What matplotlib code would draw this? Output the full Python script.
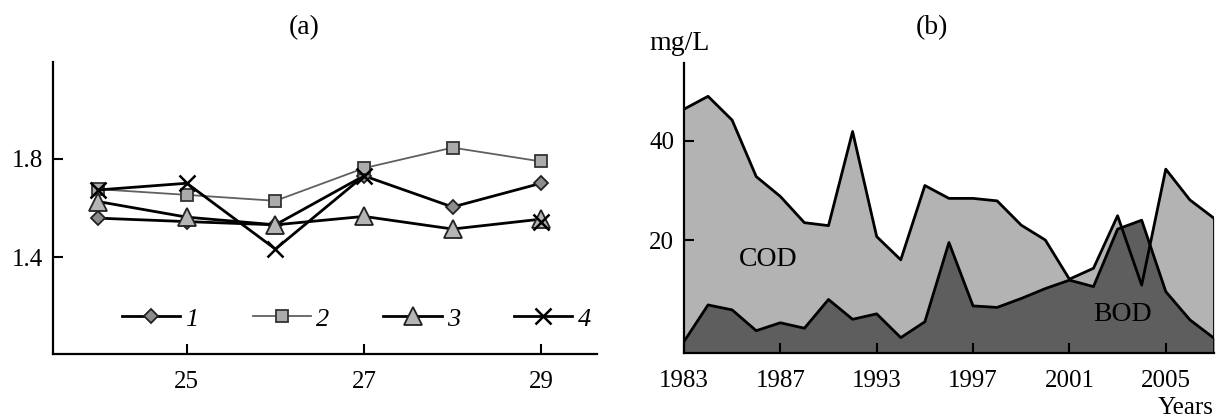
import numpy as np
import matplotlib
matplotlib.use("Agg")
import matplotlib.pyplot as plt

plt.rcParams['font.family'] = ['Liberation Serif', 'DejaVu Serif']
plt.rcParams['font.size'] = 18

# (a) four series vs x
x_a = [24, 25, 26, 27, 28, 29]
s1 = [1.559, 1.545, 1.532, 1.730, 1.604, 1.700]
s2 = [1.676, 1.653, 1.629, 1.761, 1.844, 1.788]
s3 = [1.626, 1.563, 1.532, 1.566, 1.515, 1.555]
s4 = [1.673, 1.700, 1.434, 1.730, np.nan, 1.545]

# (b) COD / BOD, one point per sample
cod = [46.4, 49.0, 44.2, 32.8, 28.8, 23.5, 22.9, 41.9, 20.7, 16.0, 31.0, 28.4,
       28.4, 27.9, 23.0, 20.0, 12.1, 14.3, 24.9, 10.9, 34.3, 28.1, 24.4]
bod = [-0.5, 6.9, 5.9, 1.7, 3.3, 2.2, 8.0, 4.0, 5.1, 0.3, 3.5, 19.5,
       6.7, 6.4, 8.2, 10.2, 11.9, 10.6, 22.2, 24.0, 9.6, 3.9, 0.2]
year_ticks = [0, 4, 8, 12, 16, 20]
year_labels = ['1983', '1987', '1993', '1997', '2001', '2005']

fig = plt.figure(figsize=(12.17, 4.18), dpi=100)
ax1 = fig.add_axes([0.0436, 0.1531, 0.4469, 0.6986])
ax2 = fig.add_axes([0.5620, 0.1555, 0.4355, 0.6935])

for ax in (ax1, ax2):
    for s in ('top', 'right'):
        ax.spines[s].set_visible(False)
    for s in ('left', 'bottom'):
        ax.spines[s].set_linewidth(1.6)
    ax.tick_params(direction='in', length=7, width=1.5, labelsize=18)
    ax.tick_params(axis='x', pad=12)
    ax.tick_params(axis='y', pad=7)

# --- panel (a)
ax1.plot(x_a, s1, color='black', lw=2, marker='D', ms=7,
         mfc='#8c8c8c', mec='#222222', mew=1.3, label='1')
ax1.plot(x_a, s2, color='#606060', lw=1.3, marker='s', ms=9,
         mfc='#ababab', mec='#333333', mew=1.3, label='2')
ax1.plot(x_a, s3, color='black', lw=2, marker='^', ms=12.5,
         mfc='#b5b5b5', mec='#222222', mew=1.3, label='3')
ax1.plot(x_a, s4, color='black', lw=2, marker='x', ms=11,
         mec='black', mew=1.8, label='4')
ax1.set_xlim(23.49, 29.63)
ax1.set_ylim(1.01, 2.19)
ax1.set_xticks([25, 27, 29])
ax1.set_yticks([1.4, 1.8])
ax1.set_yticklabels(['1.4', '1.8'])
leg = ax1.legend(loc='center left', bbox_to_anchor=(0.127, 0.12), ncol=4,
                 frameon=False, borderpad=0, borderaxespad=0,
                 handlelength=2.2, handletextpad=0.2, columnspacing=2.05,
                 prop={'family': 'Liberation Serif', 'style': 'italic', 'size': 19})

# --- panel (b)
idx = np.arange(len(cod))
base = -10
ax2.fill_between(idx, base, cod, color='#b3b3b3', lw=0)
ax2.fill_between(idx, base, bod, color='#5e5e5e', lw=0)
ax2.plot(idx, cod, color='black', lw=2)
ax2.plot(idx, bod, color='black', lw=2)
ax2.plot([idx[-1], idx[-1]], [base, cod[-1]], color='black', lw=2)
ax2.set_xlim(0, len(cod) - 1)
ax2.set_ylim(-2.8, 55.7)
ax2.set_xticks(year_ticks)
ax2.set_xticklabels(year_labels)
ax2.set_yticks([20, 40])
ax2.text(3.5, 16, 'COD', ha='center', va='center', fontsize=20)
ax2.text(18.2, 4.9, 'BOD', ha='center', va='center', fontsize=20)

fig.text(304 / 1217, 1 - 28 / 418, '(a)', ha='center', va='center', fontsize=20)
fig.text(932 / 1217, 1 - 28 / 418, '(b)', ha='center', va='center', fontsize=20)
fig.text(649 / 1217, 1 - 43 / 418, 'mg/L', ha='left', va='center', fontsize=20)
fig.text(1214 / 1217, 1 - 408 / 418, 'Years', ha='right', va='center', fontsize=18)

fig.savefig('out.png', dpi=100)
